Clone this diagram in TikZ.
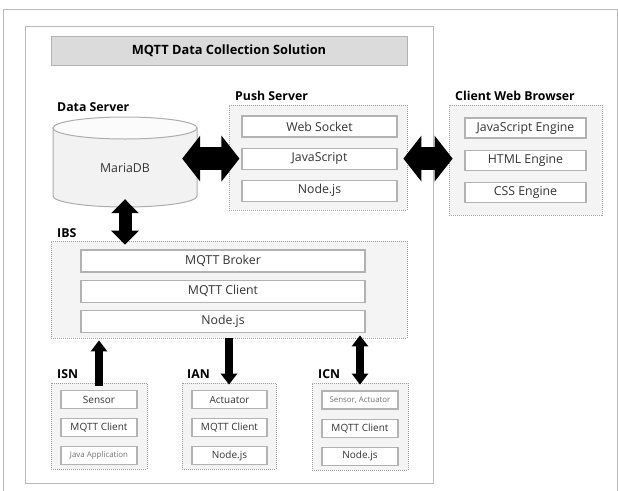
\documentclass[tikz,border=0pt]{standalone}
\usepackage{fontspec}
\setmainfont{Open Sans}
\usetikzlibrary{arrows.meta,positioning}

\begin{document}
\begin{tikzpicture}[x=1pt,y=-1pt,
	frameline/.style={draw=gray!55,line width=0.8pt},
	groupbox/.style={draw=gray!75,fill=gray!9,dash pattern=on 1pt off 1pt,line width=0.8pt,inner sep=0pt},
	layer/.style={draw=gray!60,fill=white,line width=1.1pt,inner sep=0pt,minimum height=21pt,text=black!80,font=\fontsize{12.3}{14}\selectfont},
	sublayer/.style={layer,minimum height=18pt,minimum width=76pt,font=\fontsize{10}{12}\selectfont},
	finelayer/.style={sublayer,text=black!55,font=\fontsize{7.9}{9}\selectfont},
	grouplabel/.style={anchor=west,inner sep=0pt,font=\bfseries\fontsize{12.3}{14}\selectfont},
	bigarrow/.style={line width=23pt,{Triangle[width=45pt,length=18pt]}-{Triangle[width=45pt,length=18pt]}},
	midarrow/.style={line width=13pt,{Triangle[width=27pt,length=14pt]}-{Triangle[width=27pt,length=14pt]}},
	thinarrow/.style={line width=8pt,-{Triangle[width=16pt,length=11pt]}},
	thindouble/.style={line width=8pt,{Triangle[width=16pt,length=11pt]}-{Triangle[width=16pt,length=11pt]}},
	]
	\useasboundingbox (0,0) rectangle (618,490);
	
	%outer frames
	\draw[frameline] (3,495) -- (3,9) -- (617,9) -- (617,495);
	\draw[frameline] (25,26) rectangle (433,483);
	
	%title bar
	\node[draw=gray!60,fill=gray!28,line width=1pt,minimum width=356pt,minimum height=29pt,inner sep=0pt,font=\bfseries\fontsize{12.8}{14}\selectfont] (title) at (229,50.5) {MQTT Data Collection Solution};
	
	%data server, drawn as a cylinder
	\node[grouplabel] (ldata) at (57,107) {Data Server};
	\draw[draw=gray!65,fill=gray!10,line width=1pt] (53,128) -- (53,196) arc[start angle=180,end angle=360,x radius=72pt,y radius=11pt] -- (197,128) -- cycle;
	\draw[draw=gray!65,fill=gray!3,line width=1pt] (125,128) ellipse[x radius=72pt,y radius=11pt];
	\node[minimum width=144pt,minimum height=90pt,inner sep=0pt] (db) at (125,162) {};
	\node[text=black!80,font=\fontsize{12.3}{14}\selectfont] (dbname) at (125,168) {MariaDB};
	
	%push server
	\node[grouplabel] (lpush) at (235,96) {Push Server};
	\node[groupbox,minimum width=178pt,minimum height=105pt] (push) at (318,157.5) {};
	\node[layer,minimum width=155pt] (pws) at (319.5,126.5) {Web Socket};
	\node[layer,minimum width=155pt,below=10pt of pws] (pjs) {JavaScript};
	\node[layer,minimum width=155pt,below=10pt of pjs] (pnode) {Node.js};
	
	%client web browser
	\node[grouplabel] (lclient) at (455,96) {Client Web Browser};
	\node[groupbox,minimum width=153pt,minimum height=110pt] (client) at (525.5,160) {};
	\node[layer,minimum width=121pt,minimum height=20pt] (cjs) at (525.5,128) {JavaScript Engine};
	\node[layer,minimum width=121pt,minimum height=20pt,below=11pt of cjs] (chtml) {HTML Engine};
	\node[layer,minimum width=121pt,minimum height=20pt,below=11pt of chtml] (ccss) {CSS Engine};
	
	%IBS
	\node[grouplabel] (libs) at (57,233) {IBS};
	\node[groupbox,minimum width=356pt,minimum height=97pt] (ibs) at (229,289.5) {};
	\node[layer,minimum width=284pt,minimum height=22pt] (broker) at (223,261) {MQTT Broker};
	\node[layer,minimum width=284pt,minimum height=22pt,below=7pt of broker] (ibsclient) {MQTT Client};
	\node[layer,minimum width=284pt,minimum height=22pt,below=7pt of ibsclient] (ibsnode) {Node.js};
	
	%ISN
	\node[grouplabel] (lisn) at (57,374) {ISN};
	\node[groupbox,minimum width=96pt,minimum height=86pt] (isn) at (99,426) {};
	\node[sublayer] (isensor) at (99,399.5) {Sensor};
	\node[sublayer,below=9pt of isensor] (iclient) {MQTT Client};
	\node[finelayer,below=9pt of iclient] (ijava) {Java Application};
	
	%IAN
	\node[grouplabel] (lian) at (187,374) {IAN};
	\node[groupbox,minimum width=94pt,minimum height=86pt] (ian) at (229,426) {};
	\node[sublayer,minimum width=75pt] (aact) at (229.5,399.5) {Actuator};
	\node[sublayer,minimum width=75pt,below=9pt of aact] (aclient) {MQTT Client};
	\node[sublayer,minimum width=75pt,below=9pt of aclient] (anode) {Node.js};
	
	%ICN
	\node[grouplabel] (licn) at (318,374) {ICN};
	\node[groupbox,minimum width=96pt,minimum height=87pt] (icn) at (360,426.5) {};
	\node[finelayer] (csa) at (360,400) {Sensor, Actuator};
	\node[sublayer,below=9pt of csa] (cclient) {MQTT Client};
	\node[sublayer,below=9pt of cclient] (cnode) {Node.js};
	
	%connections
	\draw[bigarrow] ([xshift=-15pt]db.east |- pjs.west) -- ([xshift=-2pt]pjs.west);
	\draw[bigarrow] ([xshift=-4pt]push.east |- pjs.west) -- ([xshift=4pt]client.west |- pjs.west);
	\draw[midarrow] ([yshift=8pt]db.south) -- ([yshift=-4pt]ibs.north -| db.south);
	\draw[thinarrow] ([yshift=-3pt]isn.north) -- ([yshift=-2pt]ibs.south -| isn.north);
	\draw[thinarrow] (ibs.south -| ian.north) -- ([yshift=-2pt]ian.north);
	\draw[thindouble] ([yshift=3pt]ibs.south -| icn.north) -- ([yshift=-2pt]icn.north);
	
\end{tikzpicture}
\end{document}
